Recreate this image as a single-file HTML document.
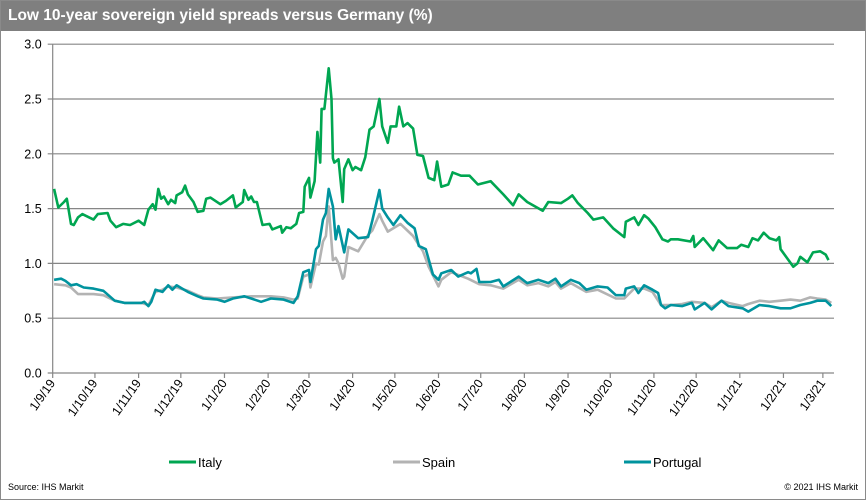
<!DOCTYPE html>
<html><head><meta charset="utf-8"><style>
html,body{margin:0;padding:0;background:#fff}
#wrap{position:relative;width:866px;height:500px;box-sizing:border-box;border:1px solid #8a8a8a;font-family:"Liberation Sans",Arial,sans-serif;overflow:hidden}
#title{position:absolute;left:0;top:0;width:866px;height:30px;background:#7f7f7f;color:#fff;font-weight:bold;font-size:15.5px;line-height:30px;padding-left:7px;box-sizing:border-box}
svg{position:absolute;left:0;top:0}
</style></head><body>
<div id="wrap">
<div id="title">Low 10-year sovereign yield spreads versus Germany (%)</div>
<svg id="chart" width="866" height="500"></svg>
</div>
<script>
// days since 1 Sep 2019
const monthLabels = ["1/9/19","1/10/19","1/11/19","1/12/19","1/1/20","1/2/20","1/3/20","1/4/20","1/5/20","1/6/20","1/7/20","1/8/20","1/9/20","1/10/20","1/11/20","1/12/20","1/1/21","1/2/21","1/3/21"];
const monthDays = [0,30,61,91,122,153,182,213,243,274,304,335,366,396,427,457,488,519,547];
const yTicks = [0,0.5,1,1.5,2,2.5,3];
const yTickLabels = ["0.0","0.5","1.0","1.5","2.0","2.5","3.0"];

const italyDays = [1,4,8,10,13,15,18,21,29,32,39,41,45,50,55,61,65,68,71,73,75,77,79,82,84,87,88,92,94,96,100,103,107,109,112,119,123,128,130,135,136,139,141,143,145,149,154,156,162,163,166,169,173,175,178,179,182,183,186,188,190,191,193,196,198,199,200,203,206,207,210,213,215,219,222,225,228,232,234,238,240,244,246,249,252,256,259,263,267,271,273,276,281,284,290,296,302,311,320,327,331,337,348,352,361,366,369,373,380,384,391,398,406,407,413,416,420,423,428,433,437,439,444,453,455,456,462,469,473,479,486,489,494,497,501,505,509,514,516,517,522,526,529,531,536,540,545,549,551];
const italyValues = [1.68,1.51,1.56,1.59,1.36,1.35,1.42,1.45,1.40,1.45,1.46,1.39,1.33,1.36,1.35,1.39,1.35,1.49,1.54,1.49,1.68,1.59,1.61,1.54,1.58,1.55,1.62,1.65,1.71,1.63,1.56,1.47,1.48,1.59,1.60,1.54,1.57,1.62,1.51,1.56,1.67,1.58,1.61,1.56,1.56,1.35,1.36,1.31,1.34,1.28,1.33,1.32,1.36,1.46,1.47,1.70,1.78,1.60,1.75,2.20,1.92,2.41,2.41,2.78,2.50,1.96,1.92,1.95,1.56,1.86,1.95,1.85,1.88,1.85,1.97,2.22,2.25,2.50,2.25,2.10,2.25,2.25,2.43,2.25,2.28,2.23,1.99,1.98,1.78,1.76,1.93,1.70,1.72,1.83,1.80,1.80,1.72,1.75,1.63,1.53,1.63,1.56,1.48,1.56,1.55,1.59,1.62,1.55,1.46,1.40,1.42,1.32,1.24,1.38,1.42,1.35,1.44,1.41,1.33,1.22,1.20,1.22,1.22,1.20,1.25,1.15,1.23,1.12,1.21,1.14,1.14,1.17,1.15,1.23,1.21,1.28,1.23,1.21,1.24,1.13,1.04,0.97,1.00,1.06,1.01,1.10,1.11,1.08,1.03];

const spainDays = [1,9,13,18,29,36,44,51,63,68,73,78,82,88,96,103,107,117,128,141,155,164,171,174,178,182,183,187,189,192,194,196,199,201,203,206,207,210,217,224,227,232,234,238,247,256,263,267,274,276,283,295,303,311,320,331,337,345,352,357,361,368,379,387,400,406,413,420,426,432,439,447,454,463,468,475,480,490,494,502,509,517,524,531,538,543,549,553];
const spainValues = [0.81,0.80,0.78,0.72,0.72,0.71,0.66,0.64,0.64,0.62,0.74,0.76,0.79,0.78,0.75,0.71,0.69,0.68,0.69,0.70,0.70,0.69,0.67,0.68,0.88,0.90,0.78,1.00,0.99,1.20,1.25,1.52,1.03,1.05,1.00,0.86,0.88,1.15,1.11,1.26,1.30,1.45,1.39,1.29,1.36,1.25,1.11,0.97,0.79,0.85,0.92,0.86,0.81,0.80,0.77,0.85,0.80,0.82,0.79,0.83,0.77,0.82,0.74,0.76,0.68,0.68,0.77,0.77,0.74,0.62,0.62,0.63,0.65,0.64,0.60,0.66,0.64,0.61,0.63,0.66,0.65,0.66,0.67,0.66,0.69,0.68,0.67,0.64];

const portugalDays = [1,6,9,13,17,22,29,36,44,51,56,63,65,68,70,73,78,82,85,88,92,96,103,107,117,122,128,136,141,148,155,164,171,174,178,182,183,187,189,192,194,196,199,201,203,207,210,217,224,227,232,234,238,242,247,252,257,260,265,270,274,276,283,288,295,297,301,303,311,317,320,331,337,345,352,357,361,368,374,379,387,394,400,406,407,413,416,420,426,430,432,435,439,447,454,456,463,468,475,480,490,494,502,509,517,524,531,538,543,549,553];
const portugalValues = [0.85,0.86,0.84,0.80,0.81,0.78,0.77,0.75,0.66,0.64,0.64,0.64,0.65,0.61,0.65,0.76,0.74,0.80,0.76,0.80,0.77,0.74,0.70,0.68,0.67,0.65,0.68,0.70,0.68,0.65,0.68,0.67,0.64,0.70,0.92,0.94,0.83,1.13,1.16,1.40,1.46,1.68,1.52,1.22,1.34,1.10,1.31,1.23,1.24,1.39,1.67,1.50,1.42,1.35,1.44,1.37,1.32,1.16,1.13,0.90,0.85,0.91,0.94,0.88,0.92,0.91,0.95,0.83,0.83,0.85,0.79,0.88,0.82,0.85,0.82,0.86,0.79,0.85,0.82,0.76,0.79,0.78,0.71,0.71,0.77,0.79,0.73,0.80,0.76,0.73,0.62,0.59,0.62,0.61,0.64,0.58,0.64,0.58,0.66,0.61,0.59,0.56,0.62,0.61,0.59,0.59,0.62,0.64,0.66,0.66,0.61];

const NS="http://www.w3.org/2000/svg";
const svg=document.getElementById('chart');
const X0=51.7, PXD=1.408, Y0=372, PXV=109.6, XR=833;
function xS(d){return X0+d*PXD;}
function yS(v){return Y0-v*PXV;}
function mk(tag,attrs,parent){const e=document.createElementNS(NS,tag);for(const k in attrs)e.setAttribute(k,attrs[k]);(parent||svg).appendChild(e);return e;}

yTicks.forEach((t,i)=>{
  const g=mk('line',{x1:X0-5,x2:XR,y1:yS(t),y2:yS(t),stroke:'#868686','stroke-width':1.2});
  
  
  const tx=mk('text',{x:X0-11,y:yS(t)+4.5,'text-anchor':'end','font-size':'12.5px',fill:'#000'});
  tx.textContent=yTickLabels[i];
  
  
});
const ya=mk('line',{x1:X0,x2:X0,y1:yS(3),y2:Y0,stroke:'#868686','stroke-width':1.2});



monthDays.forEach((d,i)=>{
  const x=xS(d);
  const tk=mk('line',{x1:x,x2:x,y1:Y0,y2:Y0+5,stroke:'#868686','stroke-width':1.2});
  
  
  const tx=mk('text',{x:x+3,y:Y0+10,'text-anchor':'end','font-size':'12.5px',fill:'#000',transform:`rotate(-55 ${x+3} ${Y0+10})`});
  tx.textContent=monthLabels[i];
  
  
});

function series(days,vals,color,name){
  const p=days.map((d,i)=>(i?'L':'M')+xS(d).toFixed(1)+','+yS(vals[i]).toFixed(1)).join('');
  const el=mk('path',{d:p,fill:'none',stroke:color,'stroke-width':2.6,'stroke-linejoin':'round'});
  
  
}
series(spainDays,spainValues,'#b3b3b3','spain-line');
series(portugalDays,portugalValues,'#00939e','portugal-line');
series(italyDays,italyValues,'#00a651','italy-line');

const legend=[["Italy","#00a651",168],["Spain","#b3b3b3",392],["Portugal","#00939e",623]];
legend.forEach(l=>{
  const ln=mk('line',{x1:l[2],x2:l[2]+27,y1:461,y2:461,stroke:l[1],'stroke-width':3});
  
  
  const tx=mk('text',{x:l[2]+29,y:466,'font-size':'13px',fill:'#000'});
  tx.textContent=l[0];
  
  
});
const src=mk('text',{x:7,y:489,'font-size':'9px',fill:'#000'});
src.textContent='Source: IHS Markit';


const cp=mk('text',{x:857,y:489,'font-size':'9px','text-anchor':'end',fill:'#000'});
cp.textContent='© 2021 IHS Markit';


</script>
</body></html>
